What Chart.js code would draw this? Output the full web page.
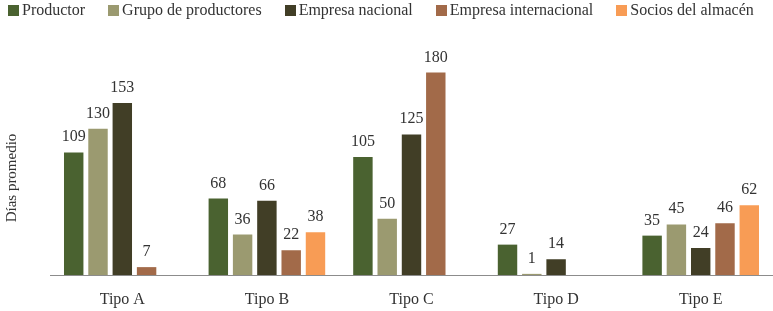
<!DOCTYPE html>
<html>
<head>
<meta charset="utf-8">
<script src="https://cdn.jsdelivr.net/npm/chart.js@4"></script>
<style>
    html, body { margin: 0; padding: 0; background: #fff; }
    #wrap { position: relative; width: 773px; height: 311px; }
    #legend {
        position: absolute; top: 1px; left: 8px; width: 765px; white-space: nowrap;
        display: flex; font-family: "Liberation Serif", serif; font-size: 16px; color: #333;
    }
    #legend .item { display: flex; align-items: center; margin-right: 23px; flex: none; }
    #legend .box { width: 11px; height: 11px; margin-right: 3px; }
</style>
</head>
<body>
<div id="wrap">
    <div id="legend"></div>
    <canvas id="chart" width="773" height="311"></canvas>
</div>
<script>
// Data
const categories = ["Tipo A", "Tipo B", "Tipo C", "Tipo D", "Tipo E"];
const seriesNames = ["Productor", "Grupo de productores", "Empresa nacional", "Empresa internacional", "Socios del almacén"];
const productor = [109, 68, 105, 27, 35];
const grupoProductores = [130, 36, 50, 1, 45];
const empresaNacional = [153, 66, 125, 14, 24];
const empresaInternacional = [7, 22, 180, null, 46];
const sociosAlmacen = [null, 38, null, null, 62];
const colors = ["#4a6230", "#9b9a70", "#413e26", "#a26a49", "#f89c55"];

const FONT = '"Liberation Serif", serif';
const seriesValues = [productor, grupoProductores, empresaNacional, empresaInternacional, sociosAlmacen];

// HTML legend
const legendEl = document.getElementById("legend");
legendEl.innerHTML = seriesNames.map((n, i) => `
    <div class="item"><span class="box" style="background:${colors[i]}"></span><span>${n}</span></div>
`).join('');

// value labels above bars
const valueLabels = {
    id: "valueLabels",
    afterDatasetsDraw(chart) {
        const ctx = chart.ctx;
        ctx.save();
        ctx.font = "16px " + FONT;
        ctx.fillStyle = "#333";
        ctx.textAlign = "center";
        ctx.textBaseline = "alphabetic";
        chart.data.datasets.forEach((ds, i) => {
            const meta = chart.getDatasetMeta(i);
            meta.data.forEach((bar, j) => {
                const v = ds.data[j];
                if (v === null || v === undefined) return;
                ctx.fillText(String(v), bar.x, bar.y - 11);
            });
        });
        ctx.restore();
    }
};

// rotated y title
const yTitle = {
    id: "yTitle",
    afterDraw(chart) {
        const ctx = chart.ctx;
        ctx.save();
        ctx.translate(12, 178);
        ctx.rotate(-Math.PI / 2);
        ctx.font = "15px " + FONT;
        ctx.fillStyle = "#333";
        ctx.textAlign = "center";
        ctx.textBaseline = "middle";
        ctx.fillText("Días promedio", 0, 0);
        ctx.restore();
    }
};

new Chart(document.getElementById("chart"), {
    type: "bar",
    data: {
        labels: categories,
        datasets: seriesNames.map((name, i) => ({
            label: name,
            data: seriesValues[i],
            backgroundColor: colors[i],
            borderWidth: 0,
            categoryPercentage: 0.84,
            barPercentage: 0.8,
        }))
    },
    options: {
        responsive: false, animation: false,
        layout: { padding: { top: 50, right: 0, bottom: 0, left: 0 } },
        plugins: { legend: { display: false }, tooltip: { enabled: false } },
        scales: {
            x: {
                grid: { display: false, drawTicks: false },
                border: { display: true, color: "#8c8c8c", width: 1 },
                ticks: { color: "#333", font: { family: FONT, size: 16 }, padding: 15 },
                afterFit: s => { s.height = 36; }
            },
            y: {
                min: 0, max: 200,
                grid: { display: false, drawTicks: false },
                border: { display: false },
                ticks: { display: false },
                afterFit: s => { s.width = 50; }
            }
        }
    },
    plugins: [valueLabels, yTitle]
});
</script>
</body>
</html>
